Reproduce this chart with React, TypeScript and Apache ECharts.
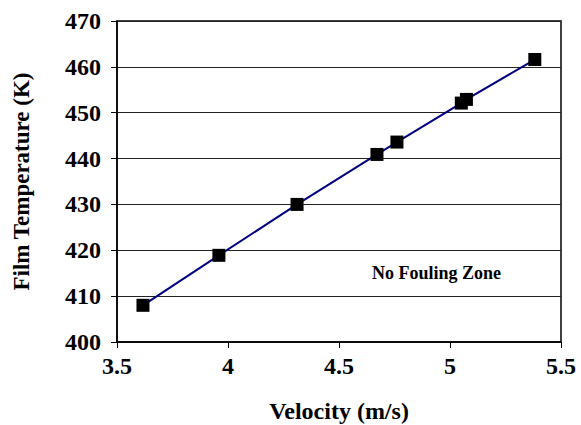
import React, { useEffect, useRef } from "react";
import * as echarts from "echarts";

// Measured film temperature against flow velocity
const velocity = [3.617, 3.959, 4.311, 4.671, 4.761, 5.051, 5.074, 5.382];
const filmTemp = [408.0, 418.9, 430.0, 440.9, 443.6, 452.1, 452.9, 461.6];

const xTicks = { min: 3.5, max: 5.5, interval: 0.5 };
const yTicks = { min: 400, max: 470, interval: 10 };

const zoneLabel = "No Fouling Zone";

const FONT = "Liberation Serif";

export default function App() {
  const ref = useRef<HTMLDivElement>(null);

  useEffect(() => {
    if (!ref.current) return;
    const chart = echarts.init(ref.current, undefined, { renderer: "svg" });
    const points = velocity.map((v, i) => [v, filmTemp[i]]);

    chart.setOption({
      animation: false,
      backgroundColor: "#ffffff",
      grid: {
        left: 117, right: 20, top: 21, bottom: 83,
        outerBoundsMode: "none",
        show: true, borderColor: "#000", borderWidth: 1.5,
      },
      xAxis: {
        type: "value",
        min: xTicks.min,
        max: xTicks.max,
        interval: xTicks.interval,
        name: "Velocity (m/s)",
        nameLocation: "middle",
        nameGap: 57,
        nameTextStyle: { fontFamily: FONT, fontWeight: "bold", fontSize: 24, color: "#000" },
        axisLine: { show: true, onZero: false, lineStyle: { color: "#000", width: 1.5 } },
        axisTick: { show: true, length: 6, inside: false, lineStyle: { color: "#000" } },
        axisLabel: {
          fontFamily: FONT, fontWeight: "bold", fontSize: 24, color: "#000", margin: 12,
          formatter: (v: number) => String(v),
        },
        splitLine: { show: false },
      },
      yAxis: {
        type: "value",
        min: yTicks.min,
        max: yTicks.max,
        interval: yTicks.interval,
        name: "Film Temperature (K)",
        nameLocation: "middle",
        nameGap: 84,
        nameRotate: 90,
        nameTextStyle: { fontFamily: FONT, fontWeight: "bold", fontSize: 23, color: "#000" },
        axisLine: { show: true, lineStyle: { color: "#000", width: 1.5 } },
        axisTick: { show: true, length: 6, inside: false, lineStyle: { color: "#000" } },
        axisLabel: { fontFamily: FONT, fontWeight: "bold", fontSize: 24, color: "#000", margin: 16 },
        splitLine: { show: true, lineStyle: { color: "#222", width: 1 } },
      },
      series: [
        {
          type: "line",
          data: points,
          symbol: "rect",
          symbolSize: 13,
          itemStyle: { color: "#000" },
          lineStyle: { color: "#000080", width: 2 },
          z: 3,
        },
      ],
      graphic: [
        {
          type: "text",
          left: 372,
          top: 264,
          style: { text: zoneLabel, fontFamily: FONT, fontWeight: "bold", fontSize: 18, fill: "#000" },
        },
      ],
    });

    return () => chart.dispose();
  }, []);

  return <div ref={ref} style={{ width: 581, height: 425, position: "absolute", left: 0, top: 0 }} />;
}
